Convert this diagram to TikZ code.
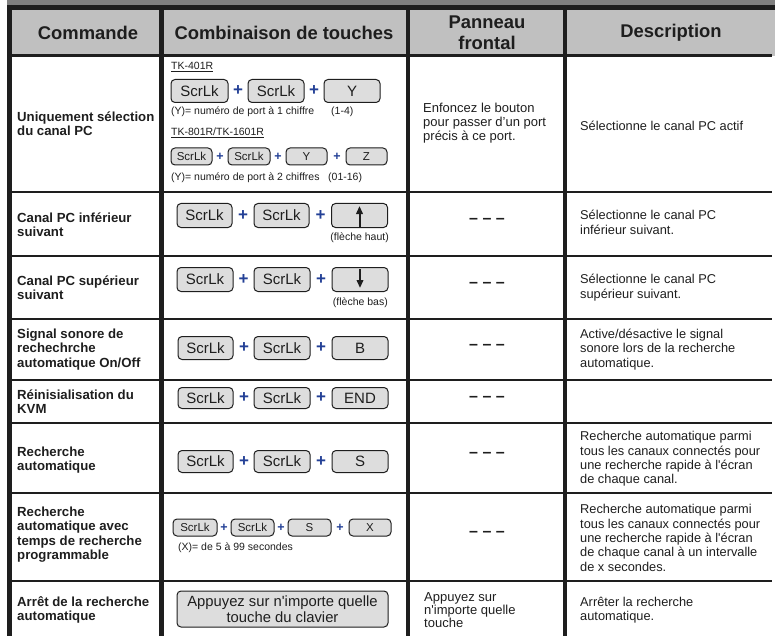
\documentclass[tikz,border=0pt]{standalone}
\usepackage{fontspec}
\setmainfont{Liberation Sans}
\usetikzlibrary{arrows.meta}
\definecolor{band}{RGB}{128,128,128}
\definecolor{hdr}{RGB}{192,192,192}
\definecolor{keyfill}{RGB}{221,221,221}
\definecolor{plusblue}{RGB}{35,64,150}
\definecolor{ink}{RGB}{30,30,30}
\tikzset{
 keycap/.style={draw=ink, line width=1pt, rounded corners=4pt, fill=keyfill, inner sep=0pt, text=ink},
 keybig/.style={keycap, minimum height=23pt, font=\fontsize{15}{15}\selectfont},
 keysmall/.style={keycap, minimum height=17pt, font=\fontsize{11.5}{11.5}\selectfont},
 plussign/.style={text=plusblue, inner sep=0pt, font=\bfseries\fontsize{17}{17}\selectfont},
 plussmall/.style={plussign, font=\bfseries\fontsize{12.5}{12.5}\selectfont},
 lbl/.style={anchor=west, align=left, inner sep=0pt, text=ink, font=\bfseries\fontsize{13.2}{14.4}\selectfont},
 desctxt/.style={anchor=west, align=left, inner sep=0pt, text=ink, font=\fontsize{12.8}{14.4}\selectfont},
 smalltxt/.style={anchor=west, inner sep=0pt, text=ink, font=\fontsize{10.5}{12}\selectfont},
 hdrtxt/.style={align=center, inner sep=0pt, text=ink, font=\bfseries\fontsize{18.4}{21}\selectfont},
 nodash/.style={inner sep=0pt, text=ink, font=\bfseries\fontsize{16}{16}\selectfont},
 hrow/.style={draw=ink, line width=2.7pt},
 vcol/.style={draw=ink, line width=4.5pt},
 arrowglyph/.style={draw=ink, line width=2pt, -{Triangle[width=6.5pt,length=8pt]}},
}
\newcommand{\tripledash}{–\hspace{4.5pt}–\hspace{4.5pt}–}
\begin{document}
\begin{tikzpicture}[x=1pt,y=-1pt]
\useasboundingbox (0,0) rectangle (775,636);
% backgrounds
\fill[band] (7,0) rectangle (775,5);
\fill[hdr] (12,10) rectangle (775,56);
% rules
\draw[draw=ink, line width=5pt] (7,7.5) -- (775,7.5);
\draw[draw=ink, line width=3pt] (12,56) -- (772,56);
\foreach \yy in {192,256,319,380,423,493,581} {\draw[hrow] (12,\yy) -- (772,\yy);}
\draw[vcol] (9.5,5) -- (9.5,636);
\draw[vcol] (161.3,10) -- (161.3,636);
\draw[vcol] (408,10) -- (408,636);
\draw[vcol] (565,10) -- (565,636);
% header
\node[hdrtxt] (h1) at (88,33) {Commande};
\node[hdrtxt] (h2) at (284,33) {Combinaison de touches};
\node[hdrtxt] (h3) at (487,32.5) {Panneau\\frontal};
\node[hdrtxt] (h4) at (671,33) {Description};
% column 1 labels
\node[lbl] (l1) at (17,124) {Uniquement sélection\\du canal PC};
\node[lbl] (l2) at (17,224.5) {Canal PC inférieur\\suivant};
\node[lbl] (l3) at (17,287.5) {Canal PC supérieur\\suivant};
\node[lbl] (l4) at (17,349.5) {Signal sonore de\\rechechrche\\automatique On/Off};
\node[lbl] (l5) at (17,401.5) {Réinisialisation du\\KVM};
\node[lbl] (l6) at (17,460) {Recherche\\automatique};
\node[lbl] (l7) at (17,534.5) {Recherche\\automatique avec\\temps de recherche\\programmable};
\node[lbl] (l8) at (17,610) {Arrêt de la recherche\\automatique};
% row 1 keys
\node[smalltxt] (tk4) at (171,67) {\underline{TK-401R}};
\node[keybig, minimum width=57pt] (k11) at (199.5,91) {ScrLk};
\node[plussign] (p11) at (238,91) {+};
\node[keybig, minimum width=56pt] (k12) at (276,91) {ScrLk};
\node[plussign] (p12) at (314,91) {+};
\node[keybig, minimum width=56pt] (k13) at (352,91) {Y};
\node[smalltxt] (s11) at (171,112) {(Y)= numéro de port à 1 chiffre};
\node[smalltxt] (s12) at (331,112) {(1-4)};
\node[smalltxt] (tk8) at (171,133) {\underline{TK-801R/TK-1601R}};
\node[keysmall, minimum width=41pt] (k14) at (191.5,156.5) {ScrLk};
\node[plussmall] (p13) at (220,156.5) {+};
\node[keysmall, minimum width=42pt] (k15) at (249,156.5) {ScrLk};
\node[plussmall] (p14) at (278,156.5) {+};
\node[keysmall, minimum width=41pt] (k16) at (306.5,156.5) {Y};
\node[plussmall] (p15) at (337,156.5) {+};
\node[keysmall, minimum width=41pt] (k17) at (366.5,156.5) {Z};
\node[smalltxt] (s13) at (171,178) {(Y)= numéro de port à 2 chiffres};
\node[smalltxt] (s14) at (328,178) {(01-16)};
% row 2
\node[keybig, minimum width=55pt, minimum height=24pt] (k21) at (204.5,215.5) {ScrLk};
\node[plussign] (p21) at (243,215.5) {+};
\node[keybig, minimum width=55pt, minimum height=24pt] (k22) at (281.5,215.5) {ScrLk};
\node[plussign] (p22) at (320.5,215.5) {+};
\node[keybig, minimum width=56pt, minimum height=24pt] (k23) at (359.5,215.5) {};
\draw[arrowglyph] ([yshift=1.5pt]k23.south) -- ([yshift=-3pt]k23.north);
\node[smalltxt, anchor=east] (c2) at (389,238) {(flèche haut)};
% row 3
\node[keybig, minimum width=56pt, minimum height=24pt] (k31) at (205,279.5) {ScrLk};
\node[plussign] (p31) at (243.5,279.5) {+};
\node[keybig, minimum width=56pt, minimum height=24pt] (k32) at (282,279.5) {ScrLk};
\node[plussign] (p32) at (321,279.5) {+};
\node[keybig, minimum width=56pt, minimum height=24pt] (k33) at (360,279.5) {};
\draw[arrowglyph] ([yshift=-2pt]k33.north) -- ([yshift=4pt]k33.south);
\node[smalltxt, anchor=east] (c3) at (388,303) {(flèche bas)};
% row 4
\node[keybig, minimum width=55pt] (k41) at (205.5,348) {ScrLk};
\node[plussign] (p41) at (244,348) {+};
\node[keybig, minimum width=56pt] (k42) at (282,348) {ScrLk};
\node[plussign] (p42) at (321,348) {+};
\node[keybig, minimum width=56pt] (k43) at (360,348) {B};
% row 5
\node[keybig, minimum width=55pt, minimum height=21pt] (k51) at (205.5,398) {ScrLk};
\node[plussign] (p51) at (244,398) {+};
\node[keybig, minimum width=56pt, minimum height=21pt] (k52) at (282,398) {ScrLk};
\node[plussign] (p52) at (321,398) {+};
\node[keybig, minimum width=56pt, minimum height=21pt] (k53) at (360,398) {END};
% row 6
\node[keybig, minimum width=55pt, minimum height=22pt] (k61) at (205.5,461.5) {ScrLk};
\node[plussign] (p61) at (244,461.5) {+};
\node[keybig, minimum width=56pt, minimum height=22pt] (k62) at (282,461.5) {ScrLk};
\node[plussign] (p62) at (321,461.5) {+};
\node[keybig, minimum width=56pt, minimum height=22pt] (k63) at (360,461.5) {S};
% row 7
\node[keysmall, minimum width=44pt] (k71) at (195,527.5) {ScrLk};
\node[plussmall] (p71) at (224,527.5) {+};
\node[keysmall, minimum width=43pt] (k72) at (252.5,527.5) {ScrLk};
\node[plussmall] (p72) at (281,527.5) {+};
\node[keysmall, minimum width=43pt] (k73) at (309.5,527.5) {S};
\node[plussmall] (p73) at (340,527.5) {+};
\node[keysmall, minimum width=42pt] (k74) at (370,527.5) {X};
\node[smalltxt] (s71) at (178,548) {(X)= de 5 à 99 secondes};
% row 8
\node[keycap, minimum width=211pt, minimum height=36pt, align=center, font=\fontsize{14.8}{15.7}\selectfont] (k81) at (282.5,609) {Appuyez sur n\textquotesingle importe quelle\\touche du clavier};
% panneau column
\node[desctxt, font=\fontsize{13}{14}\selectfont] (f1) at (423,123) {Enfoncez le bouton\\pour passer d’un port\\précis à ce port.};
\node[nodash] (d2) at (487,221) {\tripledash};
\node[nodash] (d3) at (487,284.5) {\tripledash};
\node[nodash] (d4) at (487,346.5) {\tripledash};
\node[nodash] (d5) at (487,398.5) {\tripledash};
\node[nodash] (d6) at (487,455) {\tripledash};
\node[nodash] (d7) at (487,533.5) {\tripledash};
\node[desctxt, font=\fontsize{13}{13.3}\selectfont] (f8) at (424,610) {Appuyez sur\\n\textquotesingle importe quelle\\touche};
% description column
\node[desctxt] (e1) at (580,126) {Sélectionne le canal PC actif};
\node[desctxt] (e2) at (580,222.5) {Sélectionne le canal PC\\inférieur suivant.};
\node[desctxt] (e3) at (580,287.5) {Sélectionne le canal PC\\supérieur suivant.};
\node[desctxt] (e4) at (580,349.5) {Active/désactive le signal\\sonore lors de la recherche\\automatique.};
\node[desctxt] (e6) at (580,459) {Recherche automatique parmi\\tous les canaux connectés pour\\une recherche rapide à l\textquotesingle écran\\de chaque canal.};
\node[desctxt] (e7) at (580,538) {Recherche automatique parmi\\tous les canaux connectés pour\\une recherche rapide à l\textquotesingle écran\\de chaque canal à un intervalle\\de x secondes.};
\node[desctxt] (e8) at (580,610) {Arrêter la recherche\\automatique.};
\end{tikzpicture}
\end{document}
